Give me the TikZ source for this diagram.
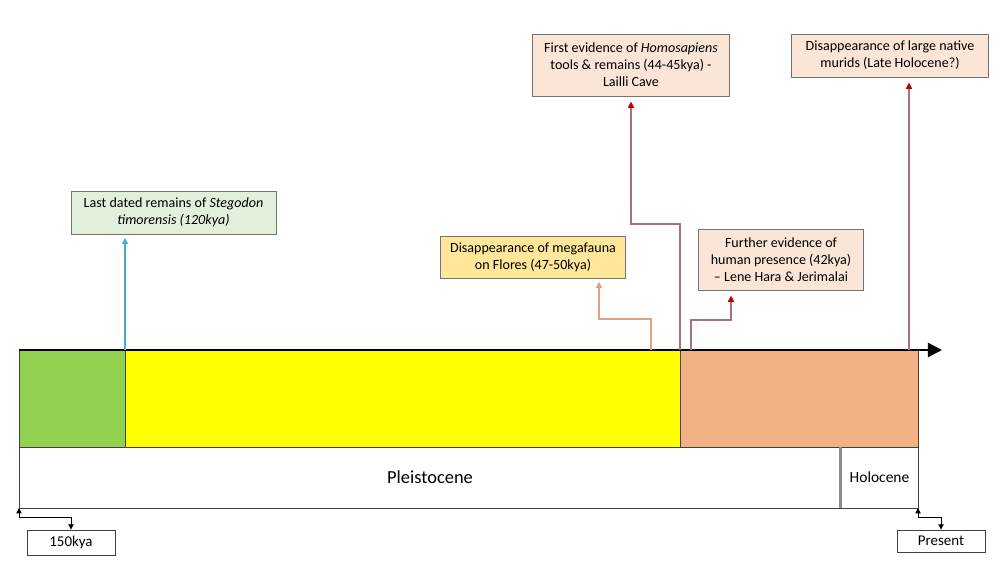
\documentclass[tikz,border=0pt]{standalone}
\usepackage{fontspec}
\setmainfont{Carlito}
\usetikzlibrary{arrows.meta}

\definecolor{eraGreen}{HTML}{92D050}
\definecolor{eraYellow}{HTML}{FFFF00}
\definecolor{eraSalmon}{HTML}{F4B183}
\definecolor{noteGreen}{HTML}{E2EFDA}
\definecolor{noteGold}{HTML}{FFE699}
\definecolor{notePink}{HTML}{FBE5D6}
\definecolor{lineBlue}{HTML}{4BACC6}
\definecolor{lineTan}{HTML}{DDA27E}
\definecolor{lineMauve}{HTML}{A8707C}
\definecolor{tipRed}{HTML}{C00000}

\begin{document}
\begin{tikzpicture}[x=0.02cm, y=-0.02cm,
    note/.style={draw=black!55, align=center, inner sep=1pt, font=\fontsize{8}{9.6}\selectfont},
    era/.style={draw=black!75, line width=0.5pt},
    span/.style={draw=black!75, line width=0.5pt, minimum height=1.22cm},
    stamp/.style={draw=black!75, line width=0.5pt, inner sep=0pt, font=\fontsize{8.5}{10}\selectfont},
    link/.style={line width=0.6pt, -{Triangle[length=3.5pt, width=3.5pt]}},
    redlink/.style={line width=0.6pt, lineMauve, -{Triangle[length=3.5pt, width=3.5pt, color=tipRed]}},
    tick/.style={line width=0.5pt, {Triangle[length=3pt, width=3pt]}-{Triangle[length=3pt, width=3pt]}}]
            \useasboundingbox (0,0) rectangle (1000,563);

            % Barras
            \draw[era, fill=eraGreen] (19,350) rectangle (125,447);
            \draw[era, fill=eraYellow] (125,350) rectangle (680,447);
            \draw[era, fill=eraSalmon] (680,350) rectangle (918,447);
            \draw[line width=1.2pt, -{Triangle[length=8pt, width=8pt]}] (19,350) -- (942,350);

            % Epocas
            \node[span, minimum width=16.44cm, font=\fontsize{10.5}{12}\selectfont] (pleist) at (430,477.5) {Pleistocene};
            \node[span, minimum width=1.54cm, font=\fontsize{8.8}{10}\selectfont] (holo) at (879.5,477.5) {Holocene};
            \draw[black!45, line width=1.6pt] (holo.north west) -- (holo.south west);
            \node[stamp, minimum width=1.76cm, minimum height=0.5cm] (kya) at (71,542.5) {150kya};
            \node[stamp, minimum width=1.76cm, minimum height=0.44cm] (present) at (941,541) {Present};

            % Notas
            \node[note, fill=noteGreen, minimum width=4.1cm, minimum height=0.86cm] (stego) at (173.5,212.5)
                {Last dated remains of \textit{Stegodon}\\\textit{timorensis (120kya)}};
            \node[note, fill=noteGold, minimum width=3.7cm, minimum height=0.84cm] (mega) at (533,257)
                {Disappearance of megafauna\\on Flores (47-50kya)};
            \node[note, fill=notePink, minimum width=3.94cm, minimum height=1.24cm] (homo) at (631,65)
                {First evidence of \textit{Homosapiens}\\tools \& remains (44-45kya) -\\Lailli Cave};
            \node[note, fill=notePink, minimum width=3.3cm, minimum height=1.22cm] (further) at (781,259.5)
                {Further evidence of\\human presence (42kya)\\– Lene Hara \& Jerimalai};
            \node[note, fill=notePink, minimum width=3.94cm, minimum height=0.86cm] (murids) at (890,55.5)
                {Disappearance of large native\\murids (Late Holocene?)};

            % Puntos del eje
            \coordinate (tStego) at (125,350);
            \coordinate (tMega) at (651,350);
            \coordinate (kMega) at (599,319);
            \coordinate (tHomo) at (680,350);
            \coordinate (kHomo) at (631,224);
            \coordinate (tFurther) at (691,350);
            \coordinate (kFurther) at (731,320);
            \coordinate (tMurids) at (909,350);
            \coordinate (tStart) at (19,508);
            \coordinate (tEnd) at (918,508);

            % Conectores
            \draw[link, lineBlue, shorten >=2pt] (tStego) -- (tStego |- stego.south);
            \draw[link, lineTan, shorten >=2pt] (tMega) |- (kMega) -- (kMega |- mega.south);
            \draw[redlink, shorten >=3pt] (tHomo) |- (kHomo) -- (kHomo |- homo.south);
            \draw[redlink, shorten >=3pt] (tFurther) |- (kFurther) -- (kFurther |- further.south);
            \draw[redlink, shorten >=3pt] (tMurids) -- (tMurids |- murids.south);
            \draw[tick] (kya.north) -- ++(0,-12) -| (tStart);
            \draw[tick] (present.north) -- ++(0,-12) -| (tEnd);
          \end{tikzpicture}
\end{document}
